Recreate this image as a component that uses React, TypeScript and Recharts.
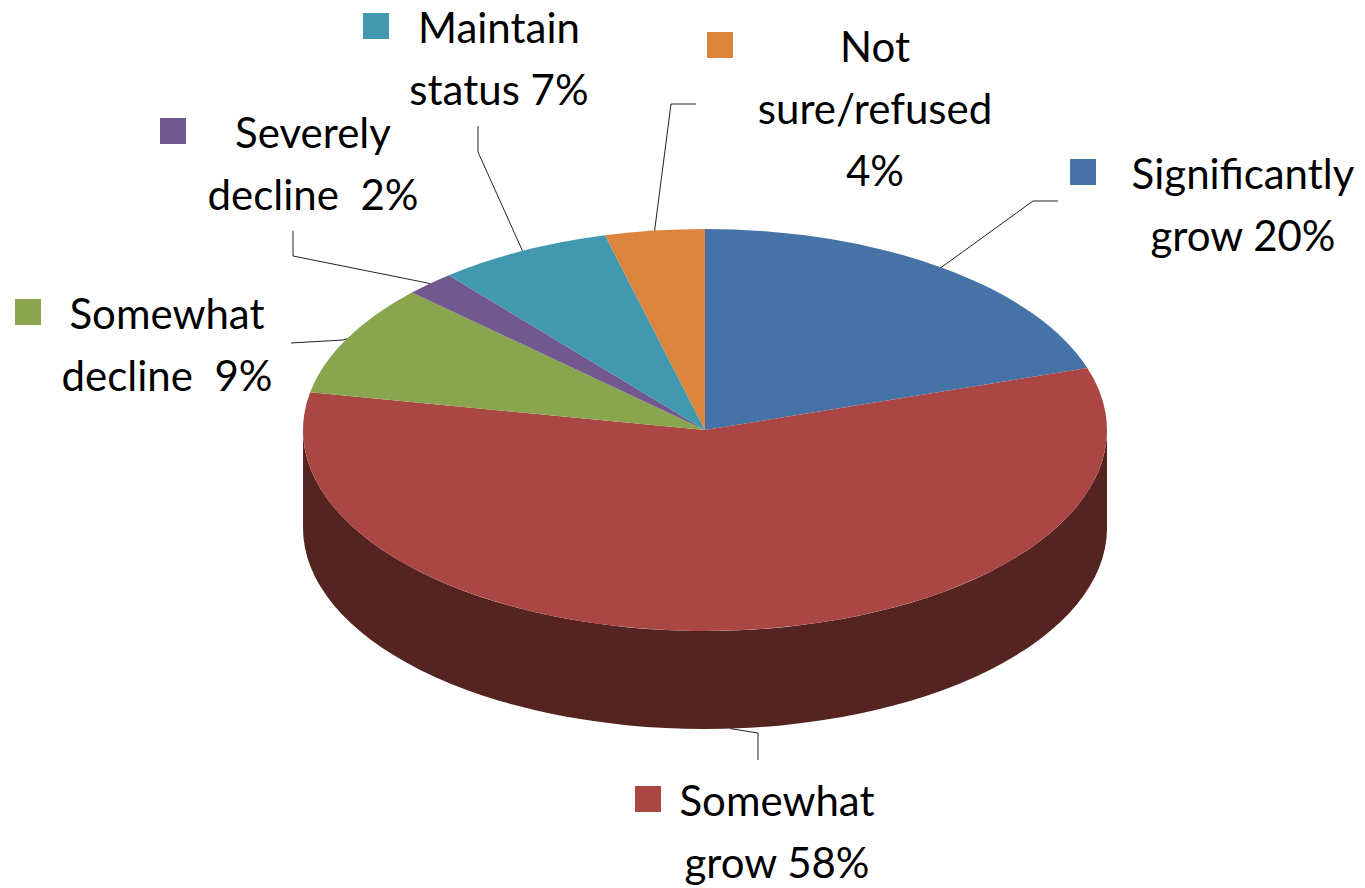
import React from "react";
import { PieChart, Pie, Cell } from "recharts";

const categories = [
  "Significantly grow",
  "Somewhat grow",
  "Somewhat decline",
  "Severely decline",
  "Maintain status",
  "Not sure/refused",
];
const shares = [20, 58, 9, 2, 7, 4];

const topColors = ["#4572A7", "#AA4643", "#89A54E", "#71588F", "#4198AF", "#DB843D"];
const sideColors = ["#233954", "#552320", "#445327", "#382C47", "#214C57", "#6D421E"];

// where Excel put each data label: text centre, first baseline, key left edge,
// leader elbow + end, and how the percentage is wrapped
const labelLayout = [
  { cx: 1243, y: 189, keyX: 1070, elbow: [1033, 201], end: [1058, 201], sep: " ", ownLine: false },
  { cx: 777, y: 816, keyX: 635, elbow: [758, 733], end: [758, 760], sep: " ", ownLine: false },
  { cx: 167, y: 329, keyX: 15, elbow: [343, 340], end: [291, 343], sep: "  ", ownLine: false },
  { cx: 313, y: 148, keyX: 160, elbow: [293, 256], end: [293, 231], sep: "  ", ownLine: false },
  { cx: 499, y: 43, keyX: 363, elbow: [478, 152], end: [478, 126], sep: " ", ownLine: false },
  { cx: 875, y: 62, keyX: 707, elbow: [671, 104], end: [696, 104], sep: " ", ownLine: true },
];

const data = categories.map((name, i) => ({ name, value: shares[i] }));

const TILT = 0.5;
const DEPTH = 98;
const LINE_H = 62;
const RAD = Math.PI / 180;

const pt = (cx: number, cy: number, r: number, a: number, dy = 0) => [
  cx + r * Math.cos(a * RAD),
  cy - r * TILT * Math.sin(a * RAD) + dy,
];

const TopFace = (props: any) => {
  const { cx, cy, outerRadius: r, startAngle, endAngle, fill } = props;
  const hi = Math.max(startAngle, endAngle);
  const lo = Math.min(startAngle, endAngle);
  const [x0, y0] = pt(cx, cy, r, hi);
  const [x1, y1] = pt(cx, cy, r, lo);
  const large = hi - lo > 180 ? 1 : 0;
  const d = `M${cx},${cy} L${x0},${y0} A${r},${r * TILT} 0 ${large} 1 ${x1},${y1} Z`;
  return <path d={d} fill={fill} stroke="none" />;
};

const SideWall = (props: any) => {
  const { cx, cy, outerRadius: r, startAngle, endAngle, fill } = props;
  const hi = Math.max(startAngle, endAngle);
  const lo = Math.min(startAngle, endAngle);
  const parts: JSX.Element[] = [];
  [-360, 0, 360].forEach((shift) => {
    const a = Math.max(lo + shift, -180);
    const b = Math.min(hi + shift, 0);
    if (b <= a) return;
    const [xa, ya] = pt(cx, cy, r, a);
    const [xb, yb] = pt(cx, cy, r, b);
    const d =
      `M${xb},${yb} A${r},${r * TILT} 0 0 1 ${xa},${ya} ` +
      `L${xa},${ya + DEPTH} A${r},${r * TILT} 0 0 0 ${xb},${yb + DEPTH} Z`;
    parts.push(<path key={shift} d={d} fill={fill} stroke="none" />);
  });
  return <g>{parts}</g>;
};

const labelLines = (i: number) => {
  const words = categories[i].split(" ");
  const pct = `${shares[i]}%`;
  const lay = labelLayout[i];
  if (lay.ownLine) return [...words, pct];
  return [words[0], `${words.slice(1).join(" ")}${lay.sep}${pct}`];
};

const renderLabel = (props: any) => {
  const { cx, cy, outerRadius, midAngle, index } = props;
  const lay = labelLayout[index];
  let [ax, ay] = pt(cx, cy, outerRadius, midAngle);
  // labels of slices facing the viewer hang off the bottom of the wall
  if (Math.sin(midAngle * RAD) < -0.9) ay += DEPTH;
  const lines = labelLines(index);
  return (
    <g key={`lbl-${index}`}>
      <polyline
        points={`${ax},${ay} ${lay.elbow[0]},${lay.elbow[1]} ${lay.end[0]},${lay.end[1]}`}
        fill="none"
        stroke="#222"
        strokeWidth={1}
      />
      <rect x={lay.keyX} y={lay.y - 30} width={26} height={26} fill={topColors[index]} />
      {lines.map((ln, j) => (
        <text
          key={j}
          x={lay.cx}
          y={lay.y + j * LINE_H}
          textAnchor="middle"
          fontFamily="Lato, 'Open Sans', sans-serif"
          fontSize={42}
          fill="#000"
          style={{ whiteSpace: "pre" }}
        >
          {ln}
        </text>
      ))}
    </g>
  );
};

export default function App() {
  return (
    <div style={{ position: "absolute", left: 0, top: 0, width: 1365, height: 888, background: "#fff" }}>
      <PieChart width={1365} height={888} margin={{ top: 0, right: 0, bottom: 0, left: 0 }}>
        <Pie
          data={data}
          dataKey="value"
          nameKey="name"
          cx={705}
          cy={430}
          outerRadius={402}
          startAngle={90}
          endAngle={-270}
          isAnimationActive={false}
          shape={SideWall}
          activeShape={SideWall}
          inactiveShape={SideWall}
          stroke="none"
          label={false}
          labelLine={false}
        >
          {data.map((d, i) => (
            <Cell key={d.name} fill={sideColors[i]} />
          ))}
        </Pie>
        <Pie
          data={data}
          dataKey="value"
          nameKey="name"
          cx={705}
          cy={430}
          outerRadius={402}
          startAngle={90}
          endAngle={-270}
          isAnimationActive={false}
          shape={TopFace}
          activeShape={TopFace}
          inactiveShape={TopFace}
          stroke="none"
          label={renderLabel}
          labelLine={false}
        >
          {data.map((d, i) => (
            <Cell key={d.name} fill={topColors[i]} />
          ))}
        </Pie>
      </PieChart>
    </div>
  );
}
